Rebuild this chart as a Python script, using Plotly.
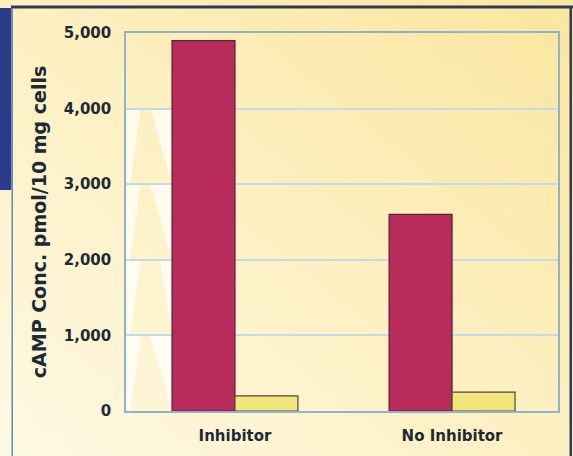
import plotly.graph_objects as go

categories = ["Inhibitor", "No Inhibitor"]
camp_red = [4900, 2600]
camp_yellow = [200, 250]
tick_vals = [0, 1000, 2000, 3000, 4000, 5000]
tick_text = ["0", "1,000", "2,000", "3,000", "4,000", "5,000"]

W, H = 573, 456
L, R, T, B = 126, 15, 33, 45
PW, PH = W - L - R, H - T - B


def px(x):
    return (x - L) / PW


def py(y):
    return (H - B - y) / PH


def mix(c1, c2, t):
    a = [int(c1[i:i + 2], 16) for i in (1, 3, 5)]
    b = [int(c2[i:i + 2], 16) for i in (1, 3, 5)]
    return "#%02X%02X%02X" % tuple(round(a[k] + (b[k] - a[k]) * t) for k in range(3))


fig = go.Figure()
fig.add_trace(go.Bar(x=categories, y=camp_red,
                     marker=dict(color="#B82C5C", line=dict(color="#5A2035", width=1.2)),
                     showlegend=False, hoverinfo="skip"))
fig.add_trace(go.Bar(x=categories, y=camp_yellow,
                     marker=dict(color="#F2E57C", line=dict(color="#4A4A3A", width=1.2)),
                     showlegend=False, hoverinfo="skip"))

shapes = []
# diagonal background gradient (bottom-left light -> top-right warmer yellow)
N = 28
c_lo, c_hi = "#FEF9E4", "#FBE69F"
for k in range(N):
    a, b = k / N, (k + 1) / N
    col = mix(c_lo, c_hi, (a + b) / 2)
    pts = [(W * (2 * a + 1), -H), (W * (2 * a - 2), 2 * H), (W * (2 * b - 2), 2 * H), (W * (2 * b + 1), -H)]
    path = "M " + " L ".join(f"{px(X):.4f},{py(H - Y):.4f}" for X, Y in pts) + " Z"
    shapes.append(dict(type="path", xref="paper", yref="paper", path=path,
                       fillcolor=col, line=dict(width=0), layer="below"))

# white decorative wedges at left of plot area
for top, bot in [(108, 184), (184, 260), (260, 336), (336, 411)]:
    shapes.append(dict(type="path", xref="paper", yref="paper",
                       path=f"M {px(127)},{py(top)} L {px(141)},{py(top)} L {px(130)},{py(bot)} L {px(127)},{py(bot)} Z",
                       fillcolor="rgba(255,255,255,0.7)", line=dict(width=0), layer="below"))
    rt = 150 if top != 260 else 160
    shapes.append(dict(type="path", xref="paper", yref="paper",
                       path=f"M {px(rt)},{py(top)} L {px(172)},{py(top)} L {px(172)},{py(bot)} Z",
                       fillcolor="rgba(255,255,255,0.7)", line=dict(width=0), layer="below"))

# decorative frame
shapes.append(dict(type="rect", xref="paper", yref="paper", x0=px(11), x1=px(573), y0=py(5.5), y1=py(8.5),
                   fillcolor="#2F3A58", line=dict(width=0)))
shapes.append(dict(type="rect", xref="paper", yref="paper", x0=px(569.5), x1=px(572), y0=py(6), y1=py(460),
                   fillcolor="#2F3A58", line=dict(width=0)))
shapes.append(dict(type="rect", xref="paper", yref="paper", x0=px(0), x1=px(11.5), y0=py(8), y1=py(190),
                   fillcolor="#2C3A8A", line=dict(width=0)))
shapes.append(dict(type="rect", xref="paper", yref="paper", x0=px(11.5), x1=px(13), y0=py(8), y1=py(460),
                   fillcolor="#5E8CB4", line=dict(width=0)))

fig.update_layout(
    width=W, height=H,
    margin=dict(l=L, r=R, t=T, b=B),
    paper_bgcolor="#FCF1C6",
    plot_bgcolor="rgba(0,0,0,0)",
    barmode="group", bargap=0.42, bargroupgap=0,
    shapes=shapes,
    hovermode=False,
    font=dict(family="DejaVu Sans", color="#1E2A33"),
    xaxis=dict(range=[-0.502, 1.488], showgrid=False, showline=True, linecolor="#8FB3CC", linewidth=1.5,
               mirror=True, ticks="", tickfont=dict(size=15, family="DejaVu Sans", weight="bold"),
               ticklabelstandoff=10),
    yaxis=dict(range=[0, 5000], tickvals=tick_vals, ticktext=tick_text, showgrid=True,
               gridcolor="#BFDCEA", gridwidth=1.5, showline=True, linecolor="#8FB3CC", linewidth=1.5,
               mirror=True, ticks="", zeroline=False,
               tickfont=dict(size=15, family="DejaVu Sans", weight="bold"), ticklabelstandoff=10,
               title=dict(text="cAMP Conc. pmol/10 mg cells",
                          font=dict(size=19, family="DejaVu Sans", weight="bold"), standoff=12)),
)
fig.write_html("out.html", config={"displayModeBar": False},
               post_script="document.body.style.margin='0';document.body.style.overflow='hidden';")
